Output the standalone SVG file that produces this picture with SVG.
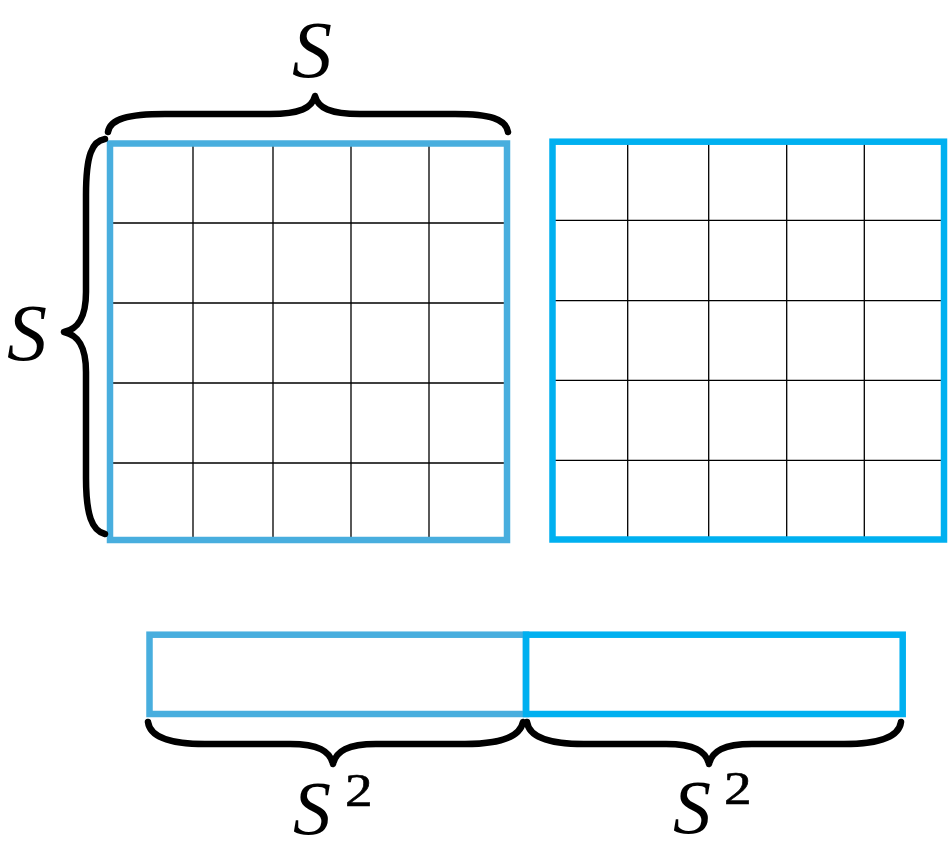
<svg xmlns="http://www.w3.org/2000/svg" width="948" height="859" viewBox="0 0 948 859">
<style>
.gl{stroke:#000;stroke-width:1.3;fill:none}
.b1{fill:none;stroke:#48AEDE;stroke-width:6.5}
.b2{fill:none;stroke:#00B0F0;stroke-width:6.5}
.br{fill:none;stroke:#000;stroke-width:6.5;stroke-linecap:round;stroke-linejoin:round}
.lb{font-family:"Liberation Serif",serif;font-style:italic;fill:#000}
.sup{font-family:"Liberation Serif",serif;fill:#000;stroke:#000;stroke-width:0.6}
</style>
<rect width="948" height="859" fill="#fff"/>
<g id="grid1">
<path class="gl" d="M193,143.5V540M273,143.5V540M351,143.5V540M429,143.5V540M110,223H507M110,303H507M110,383H507M110,463H507"/>
<rect class="b1" x="110" y="143.5" width="397" height="396.5"/>
</g>
<g id="grid2">
<path class="gl" d="M627.7,141.7V539.5M708.7,141.7V539.5M786.7,141.7V539.5M864.3,141.7V539.5M552.5,220.3H944M552.5,300.7H944M552.5,380.3H944M552.5,460.3H944"/>
<rect class="b2" x="552.5" y="141.7" width="391.5" height="397.8"/>
</g>
<g id="bar">
<rect class="b1" x="149.5" y="634.7" width="376.5" height="79.3"/>
<rect class="b2" x="526" y="634.7" width="376.7" height="79.3"/>
</g>
<g id="braces">
<path class="br" d="M108,132 C110,119 128,114 165,114 L270,114 C300,114 312,108 315,96 C318,108 330,114 360,114 L455,114 C490,114 506,119 508,132"/>
<path class="br" d="M105,139 C92,141 86,155 86,195 L86,292 C86,318 78,329 64,332 C78,335 86,346 86,372 L86,478 C86,515 92,531 105,534"/>
<path class="br" d="M148,722 C150,737 170,744 205,744 L290,744 C318,744 330,751 333,764 C336,751 348,744 376,744 L465,744 C500,744 520,737 523,722"/>
<path class="br" d="M527,722 C529,737 549,744 584,744 L666,744 C694,744 706,751 709,764 C712,751 724,744 752,744 L844,744 C879,744 899,737 901,722"/>
</g>
<g id="labels">
<text class="lb" x="292" y="77" font-size="80">S</text>
<text class="lb" x="7" y="360" font-size="80">S</text>
<text class="lb" x="293" y="834" font-size="76">S</text>
<text class="sup" x="0" y="0" font-size="46" transform="translate(345,806) scale(1.2,1)">2</text>
<text class="lb" x="673" y="833" font-size="76">S</text>
<text class="sup" x="0" y="0" font-size="46" transform="translate(724,804) scale(1.2,1)">2</text>
</g>
</svg>
